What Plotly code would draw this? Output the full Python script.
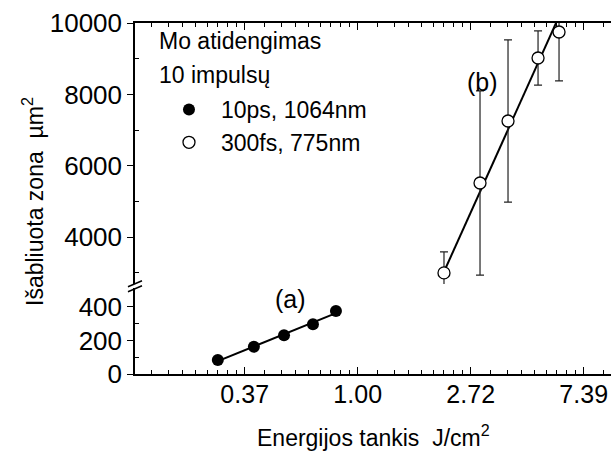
import numpy as np
import plotly.graph_objects as go

# ---- data ----
fluence_a = [0.290, 0.399, 0.521, 0.673, 0.825]      # J/cm2, 10ps 1064nm
area_a = [83, 162, 230, 296, 375]                    # um2
fluence_b = [2.146, 2.952, 3.782, 4.933, 5.94]       # J/cm2, 300fs 775nm
area_b = [3000, 5518, 7255, 9020, 9748]              # um2
err_b = [590, 2580, 2270, 760, 1370]

x_tick_vals = [np.e ** -1, 1.0, np.e, np.e ** 2]
x_tick_text = ["0.37", "1.00", "2.72", "7.39"]
low_ticks = [0, 200, 400]
low_tick_text = ["0", "200", "400"]
low_minor = [100, 300]
up_ticks = [4000, 6000, 8000, 10000]
up_tick_text = ["4000", "6000", "8000", "10000"]
up_minor = [3000, 5000, 7000, 9000]

# minor ticks on ln axis: linear subdivisions between e^k and e^(k+1)
x_minor = []
for k in range(-3, 3):
    a, b = np.e ** k, np.e ** (k + 1)
    step = (b - a) / 9
    x_minor += [a + j * step for j in range(1, 9)]

# linear fits in ln(x)
la = np.log(fluence_a)
pa = np.polyfit(la, area_a, 1)
fit_ax = np.exp(np.linspace(la[0], la[-1], 20))
fit_ay = np.polyval(pa, np.log(fit_ax))

lb = np.log(fluence_b)
pb = np.polyfit(lb, area_b, 1, w=1 / np.array(err_b))
fit_bx = np.exp(np.linspace(lb[0], lb[-1], 20))
fit_by = np.polyval(pb, np.log(fit_bx))

FONT = "Liberation Sans, Arial, sans-serif"

fig = go.Figure()
fig.add_trace(go.Scatter(x=fit_ax, y=fit_ay, mode="lines", line=dict(color="black", width=2),
                         showlegend=False, xaxis="x", yaxis="y", hoverinfo="skip"))
fig.add_trace(go.Scatter(x=fluence_a, y=area_a, mode="markers", name="10ps, 1064nm",
                         marker=dict(symbol="circle", size=12, color="black"),
                         xaxis="x", yaxis="y", legendgroup="a"))
fig.add_trace(go.Scatter(x=fit_bx, y=fit_by, mode="lines", line=dict(color="black", width=2),
                         showlegend=False, xaxis="x2", yaxis="y2", hoverinfo="skip"))
fig.add_trace(go.Scatter(x=fluence_b, y=area_b, mode="markers", name="300fs, 775nm",
                         marker=dict(symbol="circle", size=12, color="white",
                                     line=dict(color="black", width=1.3)),
                         error_y=dict(type="data", array=err_b, color="#222222", thickness=1.2, width=4),
                         xaxis="x2", yaxis="y2", legendgroup="b"))

xr = [-1.9708 * np.log10(np.e), 2.2416 * np.log10(np.e)]
common_x = dict(type="log", range=xr, tickmode="array", tickvals=x_tick_vals, ticktext=x_tick_text,
                showline=True, linecolor="black", linewidth=1.5, showgrid=False, zeroline=False,
                ticks="inside", ticklen=7, tickwidth=1.3, tickcolor="black",
                minor=dict(tickmode="array", tickvals=x_minor, ticks="inside", ticklen=4,
                           tickwidth=1.2, tickcolor="black", showgrid=False))

fig.update_layout(
    width=611, height=452,
    margin=dict(l=135, r=0, t=23, b=78),
    paper_bgcolor="white", plot_bgcolor="white",
    font=dict(family=FONT, color="black"),
    xaxis=dict(**common_x, anchor="y", domain=[0, 1],
               tickfont=dict(size=25, family=FONT), ticklabelstandoff=-3),
    xaxis2=dict(**common_x, anchor="y2", side="top", showticklabels=False, matches="x"),
    yaxis=dict(domain=[0, 0.245], range=[0, 512], tickmode="array", tickvals=low_ticks,
               ticktext=low_tick_text,
               showline=True, linecolor="black", linewidth=1.5, showgrid=False, zeroline=False,
               ticks="outside", ticklen=6, tickwidth=1.3, tickcolor="black",
               tickfont=dict(size=26, family=FONT),
               minor=dict(tickmode="array", tickvals=low_minor, ticks="inside", ticklen=4,
                          tickwidth=1.2, tickcolor="black")),
    yaxis2=dict(domain=[0.2564, 1], range=[2689, 10000], tickmode="array", tickvals=up_ticks,
                ticktext=up_tick_text,
                showline=True, linecolor="black", linewidth=1.5, showgrid=False, zeroline=False,
                ticks="outside", ticklen=6, tickwidth=1.3, tickcolor="black",
                tickfont=dict(size=26, family=FONT), anchor="x2",
                minor=dict(tickmode="array", tickvals=up_minor, ticks="inside", ticklen=4,
                           tickwidth=1.2, tickcolor="black")),
    showlegend=True,
    legend=dict(x=0.0462, y=0.815, xanchor="left", yanchor="top", bgcolor="rgba(0,0,0,0)",
                font=dict(size=23, family=FONT), itemwidth=54, tracegroupgap=2,
                traceorder="normal"),
)

annos = [
    dict(text="Mo atidengimas", x=0.0462, y=1 - (41 - 23) / 351, xanchor="left", yanchor="middle",
         font=dict(size=23)),
    dict(text="10 impulsų", x=0.0462, y=1 - (75 - 23) / 351, xanchor="left", yanchor="middle",
         font=dict(size=23)),
    dict(text="Energijos tankis  J/cm<sup>2</sup>", x=0.5, y=0, yshift=-45, xanchor="center",
         yanchor="top", font=dict(size=23)),
    dict(text="Išabliuota zona  µm<sup>2</sup>", x=0, xshift=-102, y=1 - (202 - 23) / 351,
         xanchor="center", yanchor="middle", textangle=-90, font=dict(size=23)),
]
for a in annos:
    a.update(xref="paper", yref="paper", showarrow=False)
    a["font"]["family"] = FONT
    a["font"]["color"] = "black"
    fig.add_annotation(**a)
fig.add_annotation(text="(a)", x=np.log10(0.554), y=445, xref="x", yref="y", showarrow=False,
                   font=dict(size=25, family=FONT, color="black"))
fig.add_annotation(text="(b)", x=np.log10(3.03), y=8347, xref="x2", yref="y2", showarrow=False,
                   font=dict(size=25, family=FONT, color="black"))

# axis break marks
for dy in (0, 5):
    fig.add_shape(type="line", xref="paper", yref="paper",
                  x0=-7 / 476, x1=7 / 476,
                  y0=(374 - (291.7 - dy)) / 351,
                  y1=(374 - (285.7 - dy)) / 351,
                  line=dict(color="black", width=1.5))

fig.write_html("out.html")
